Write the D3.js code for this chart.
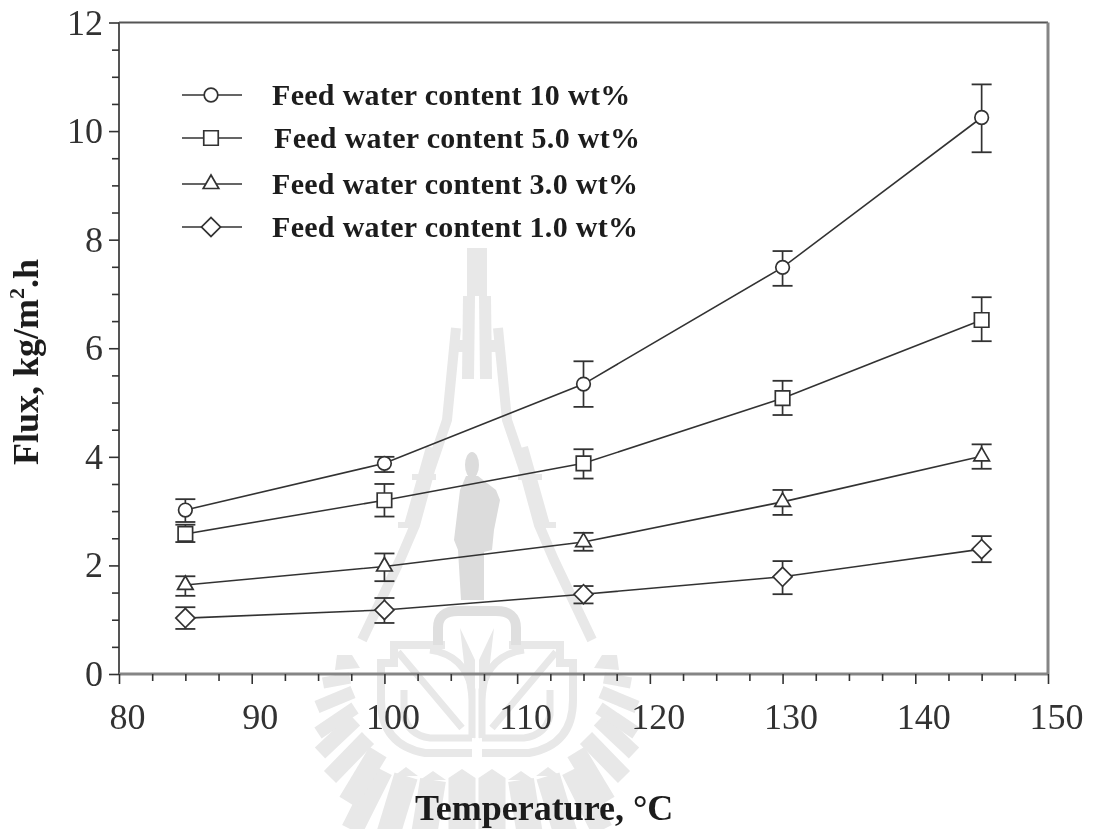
<!DOCTYPE html>
<html>
<head>
<meta charset="utf-8">
<script src="https://cdn.jsdelivr.net/npm/d3@7"></script>
<style>
    html, body { margin: 0; padding: 0; background: #fff; }
    svg { display: block; }
    text { font-family: "Liberation Serif", serif; }
    .tick text { font-size: 36px; fill: #333; font-family: "Liberation Serif", serif; }
    .axis-title { font-size: 36px; font-weight: bold; fill: #1c1c1c; }
    .legend-label { font-size: 30px; font-weight: bold; fill: #1c1c1c; letter-spacing: 0.3px; }
</style>
</head>
<body>
<div id="chart"></div>
<script>
// values
const temperatures = [85, 100, 115, 130, 145];

const flux10 = [3.02, 3.88, 5.34, 7.49, 10.25];
const high10 = [3.22, 4.00, 5.76, 7.79, 10.86];
const low10 = [2.80, 3.72, 4.92, 7.15, 9.61];

const flux5 = [2.58, 3.20, 3.88, 5.08, 6.52];
const high5 = [2.75, 3.50, 4.14, 5.40, 6.94];
const low5 = [2.43, 2.90, 3.60, 4.77, 6.13];

const flux3 = [1.64, 1.98, 2.43, 3.17, 4.01];
const high3 = [1.80, 2.22, 2.60, 3.39, 4.23];
const low3 = [1.44, 1.71, 2.27, 2.93, 3.78];

const flux1 = [1.03, 1.18, 1.47, 1.79, 2.30];
const high1 = [1.23, 1.40, 1.62, 2.08, 2.54];
const low1 = [0.83, 0.94, 1.30, 1.47, 2.06];

const xTicks = [80, 90, 100, 110, 120, 130, 140, 150];
const yTicks = [0, 2, 4, 6, 8, 10, 12];
const legendLabels = [
    "Feed water content 10 wt%",
    "Feed water content 5.0 wt%",
    "Feed water content 3.0 wt%",
    "Feed water content 1.0 wt%"
];

const width = 1093;
const height = 829;
const inkColor = "#333";

const svg = d3.select("#chart").append("svg")
    .attr("width", width)
    .attr("height", height);

// slight softness, the reference is a scanned picture
const defs = svg.append("defs");
defs.append("filter").attr("id", "soft")
    .append("feGaussianBlur").attr("stdDeviation", 0.5);

const root = svg.append("g").attr("filter", "url(#soft)");

const x = d3.scaleLinear().domain([80, 150]).range([119, 1048]);
const y = d3.scaleLinear().domain([0, 12]).range([674, 22.5]);

// --- Watermark behind the plot (university seal, left half mirrored) ---
const mark = root.append("g").attr("class", "watermark");
const wmColor = "#e8e8e8";
const centerX = 477;

// [x1, y1, x2, y2, width] of the rays around the seal
const wmRays = [
    [462, 778, 462, 835, 27], [433, 780, 424, 835, 26], [406, 776, 388, 835, 24],
    [382, 770, 352, 830, 22], [378, 752, 348, 802, 20], [368, 738, 330, 777, 17],
    [355, 720, 320, 753, 15], [355, 708, 318, 733, 13], [353, 692, 317, 707, 13],
    [350, 678, 323, 683, 11]
];

function drawHalf(g) {
    const strips = [
        ["M472,248 L472,296", 10, wmColor],
        ["M469,296 L468,379", 12, wmColor],
        ["M457,346 L468,346", 12, wmColor],
        ["M456,328 L447,420 L430,470 L415,525 L400,560 L362,640", 10, wmColor],
        ["M430,447 L408,525", 8, wmColor],
        ["M412,477 L436,477", 6, wmColor],
        ["M398,525 L418,525", 6, wmColor]
    ];
    strips.forEach(s => {
        g.append("path").attr("d", s[0]).attr("fill", "none")
            .attr("stroke", s[2]).attr("stroke-width", s[1]);
    });

    // shield outline and leaf
    g.append("path")
        .attr("d", "M472,753 L425,753 Q381,745 381,700 L381,663 L394,663 L394,645 L445,645")
        .attr("fill", "none").attr("stroke", wmColor).attr("stroke-width", 8);
    g.append("path")
        .attr("d", "M462,728 L398,652 M472,738 L472,690 Q465,655 430,650 M404,690 L404,715 Q408,735 430,738 L472,738")
        .attr("fill", "none").attr("stroke", wmColor).attr("stroke-width", 7);
    g.append("path")
        .attr("d", "M475,740 L475,660 L460,628 L466,680 Z")
        .attr("fill", wmColor);

    // pedestal arch
    g.append("path")
        .attr("d", "M438,645 L438,628 Q438,611 458,611 L477,611")
        .attr("fill", "none").attr("stroke", "#dfdfdf").attr("stroke-width", 10);

    // rays
    wmRays.forEach(r => {
        g.append("line")
            .attr("x1", r[0]).attr("y1", r[1]).attr("x2", r[2]).attr("y2", r[3])
            .attr("stroke", wmColor).attr("stroke-width", r[4]);
    });
    // pointed tips of the bottom rays
    wmRays.slice(0, 3).forEach(r => {
        g.append("path")
            .attr("d", `M${r[0] - r[4] / 2},${r[1]} L${r[0]},${r[1] - 9} L${r[0] + r[4] / 2},${r[1]} Z`)
            .attr("fill", wmColor);
    });
    g.append("path").attr("d", "M337,655 L352,655 L360,668 L335,670 Z").attr("fill", wmColor);
}
drawHalf(mark.append("g"));
drawHalf(mark.append("g").attr("transform", `translate(${2 * centerX},0) scale(-1,1)`));

// statue
mark.append("ellipse").attr("cx", 472).attr("cy", 465).attr("rx", 7).attr("ry", 13).attr("fill", "#dcdcdc");
mark.append("path")
    .attr("d", "M466,476 L478,476 L496,490 L500,500 L494,530 L492,550 L484,552 L484,600 L461,600 L458,550 L454,540 L460,490 Z")
    .attr("fill", "#dcdcdc");

// --- Axes ---
const xAxis = d3.axisBottom(x).tickValues(xTicks).tickSize(10).tickPadding(19).tickFormat(d3.format("d"));
const yAxis = d3.axisLeft(y).tickValues(yTicks).tickSize(10).tickPadding(6).tickFormat(d3.format("d"));
const xMinor = d3.axisBottom(x).tickValues(d3.range(80, 150.1, 2.5).filter(d => d % 10 !== 0)).tickSize(7).tickFormat("");
const yMinor = d3.axisLeft(y).tickValues(d3.range(0, 12.1, 0.5).filter(d => d % 2 !== 0)).tickSize(7).tickFormat("");

// frame: top and left are dark and thin, bottom and right grey and thick
root.append("line").attr("x1", x(80)).attr("x2", x(150)).attr("y1", y(12)).attr("y2", y(12))
    .attr("stroke", "#555").attr("stroke-width", 2);
root.append("line").attr("x1", x(80)).attr("x2", x(80)).attr("y1", y(12)).attr("y2", y(0))
    .attr("stroke", "#555").attr("stroke-width", 2);
root.append("line").attr("x1", x(80)).attr("x2", x(150)).attr("y1", y(0)).attr("y2", y(0))
    .attr("stroke", "#858585").attr("stroke-width", 3);
root.append("line").attr("x1", x(150)).attr("x2", x(150)).attr("y1", y(12)).attr("y2", y(0))
    .attr("stroke", "#858585").attr("stroke-width", 3);

[[xMinor, true], [xAxis, true], [yMinor, false], [yAxis, false]].forEach(([axis, isX]) => {
    const g = root.append("g")
        .attr("transform", isX ? `translate(0,${y(0)})` : `translate(${x(80)},0)`)
        .call(axis);
    g.select(".domain").remove();
    g.selectAll(".tick line").attr("stroke", inkColor).attr("stroke-width", 1.6);
    if (isX) g.selectAll(".tick text").attr("dx", 8);
});

// --- Series ---
const series = [
    { name: "circle", values: flux10, high: high10, low: low10 },
    { name: "square", values: flux5, high: high5, low: low5 },
    { name: "triangle", values: flux3, high: high3, low: low3 },
    { name: "diamond", values: flux1, high: high1, low: low1 }
];

const lineGen = d3.line().x((d, i) => x(temperatures[i])).y(d => y(d));

const symbols = {
    circle: d3.symbol().type(d3.symbolCircle).size(Math.PI * 6.8 * 6.8),
    square: d3.symbol().type(d3.symbolSquare).size(14.5 * 14.5),
    triangle: d3.symbol().type(d3.symbolTriangle).size(105),
    diamond: d3.symbol().type(d3.symbolSquare).size(13.5 * 13.5)
};

function addMarker(g, name, px, py) {
    const rot = name === "diamond" ? " rotate(45)" : "";
    g.append("path")
        .attr("d", symbols[name]())
        .attr("transform", `translate(${px},${py})${rot}`)
        .attr("fill", "#fff")
        .attr("stroke", inkColor)
        .attr("stroke-width", 1.7);
}

series.forEach(s => {
    const g = root.append("g").attr("class", "series-" + s.name);

    g.append("path")
        .datum(s.values)
        .attr("d", lineGen)
        .attr("fill", "none")
        .attr("stroke", inkColor)
        .attr("stroke-width", 1.6);

    temperatures.forEach((t, i) => {
        const px = x(t);
        g.append("line").attr("x1", px).attr("x2", px)
            .attr("y1", y(s.high[i])).attr("y2", y(s.low[i]))
            .attr("stroke", inkColor).attr("stroke-width", 1.7);
        [s.high[i], s.low[i]].forEach(v => {
            g.append("line").attr("x1", px - 10).attr("x2", px + 10)
                .attr("y1", y(v)).attr("y2", y(v))
                .attr("stroke", inkColor).attr("stroke-width", 1.8);
        });
        addMarker(g, s.name, px, y(s.values[i]));
    });
});

// --- Legend ---
const legendRows = [95, 138, 184, 227];
const legendTextX = [272, 274, 272, 272];
const legend = root.append("g").attr("class", "legend");
series.forEach((s, i) => {
    const ly = legendRows[i];
    legend.append("line")
        .attr("x1", 182).attr("x2", 242)
        .attr("y1", ly).attr("y2", ly)
        .attr("stroke", inkColor).attr("stroke-width", 1.7);
    addMarker(legend, s.name, 211, ly);
    legend.append("text")
        .attr("class", "legend-label")
        .attr("x", legendTextX[i])
        .attr("y", ly + 9.5)
        .text(legendLabels[i]);
});

// --- Axis titles ---
root.append("text")
    .attr("class", "axis-title")
    .attr("x", 415)
    .attr("y", 820)
    .text("Temperature, °C");

const yTitle = root.append("text")
    .attr("class", "axis-title")
    .attr("transform", "translate(38,465) rotate(-90)");
yTitle.append("tspan").text("Flux, kg/m");
yTitle.append("tspan").attr("dy", -14).style("font-size", "22px").text("2");
yTitle.append("tspan").attr("dy", 14).text(".h");
</script>
</body>
</html>
